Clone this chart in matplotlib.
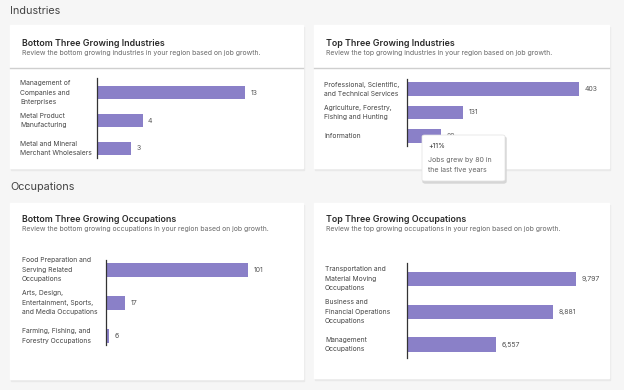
import matplotlib
matplotlib.use("Agg")
import matplotlib.pyplot as plt
import matplotlib.transforms as mtransforms
from matplotlib.patches import Rectangle, FancyBboxPatch

plt.rcParams['font.family'] = ['Inter', 'DejaVu Sans']

# data
ind_bottom_labels = ["Management of\nCompanies and\nEnterprises", "Metal Product\nManufacturing",
                     "Metal and Mineral\nMerchant Wholesalers"]
ind_bottom_values = [13, 4, 3]
ind_top_labels = ["Professional, Scientific,\nand Technical Services", "Agriculture, Forestry,\nFishing and Hunting",
                  "Information"]
ind_top_values = [403, 131, 80]
occ_bottom_labels = ["Food Preparation and\nServing Related\nOccupations",
                     "Arts, Design,\nEntertainment, Sports,\nand Media Occupations",
                     "Farming, Fishing, and\nForestry Occupations"]
occ_bottom_values = [101, 17, 6]
occ_top_labels = ["Transportation and\nMaterial Moving\nOccupations", "Business and\nFinancial Operations\nOccupations",
                  "Management\nOccupations"]
occ_top_values = [9797, 8881, 6557]

W, H = 624, 390
BAR = '#8a80c8'
fig = plt.figure(figsize=(W / 100, H / 100), dpi=100)
fig.patch.set_facecolor('#f6f6f6')


def fx(x):
    return x / W


def fy(y):
    return 1 - y / H


def card(x0, y0, x1, y1, sep=None):
    fig.patches.append(Rectangle((fx(x0 + 1), fy(y1 + 2)), (x1 - x0) / W, (y1 - y0) / H,
                                 transform=fig.transFigure, color='#e9e9e9', zorder=-3))
    fig.patches.append(Rectangle((fx(x0), fy(y1)), (x1 - x0) / W, (y1 - y0) / H,
                                 transform=fig.transFigure, color='white', zorder=-2))
    if sep:
        fig.lines.append(plt.Line2D([fx(x0), fx(x1)], [fy(sep), fy(sep)], transform=fig.transFigure,
                                    color='#cfcfcf', lw=1, zorder=-1))


def header(x, y, title, sub):
    fig.text(fx(x), fy(y), title, fontsize=6.4, weight='semibold', color='#2b2b2b', va='center')
    fig.text(fx(x), fy(y + 10), sub, fontsize=4.95, color='#6a6a6a', va='center')


def bars(x0, top, bottom, width, labels, values, xlim, ylim, bh, label_x, fmt):
    ax = fig.add_axes([fx(x0), fy(bottom), width / W, (bottom - top) / H])
    ax.patch.set_alpha(0)
    ax.barh(range(len(values)), values, height=bh, color=BAR)
    ax.set_xlim(*xlim)
    ax.set_ylim(*ylim)
    for s in ['top', 'right', 'bottom']:
        ax.spines[s].set_visible(False)
    ax.spines['left'].set_color('#333333')
    ax.spines['left'].set_linewidth(0.9)
    ax.set_xticks([])
    ax.set_yticks([])
    trans = mtransforms.blended_transform_factory(fig.transFigure, ax.transData)
    for i, (lab, v) in enumerate(zip(labels, values)):
        ax.text(fx(label_x), i, lab, transform=trans, fontsize=4.85, color='#444444',
                va='center', ha='left', linespacing=1.7)
        ax.annotate(fmt(v), (v, i), xytext=(4, 0), textcoords='offset points',
                    fontsize=5.0, color='#555555', va='center', ha='left')
    return ax


# section titles
fig.text(fx(10), fy(11), "Industries", fontsize=7.8, color='#444444', va='center')
fig.text(fx(10), fy(187), "Occupations", fontsize=7.8, color='#444444', va='center')

# cards
card(10, 25, 303, 168, sep=68)
card(314, 25, 609, 168, sep=68)
card(10, 203, 303, 379)
card(314, 203, 609, 378)

header(22, 43, "Bottom Three Growing Industries",
       "Review the bottom growing industries in your region based on job growth.")
header(326, 43, "Top Three Growing Industries",
       "Review the top growing industries in your region based on job growth.")
header(22, 219, "Bottom Three Growing Occupations",
       "Review the bottom growing occupations in your region based on job growth.")
header(326, 219, "Top Three Growing Occupations",
       "Review the top growing occupations in your region based on job growth.")

plain = lambda v: str(v)
comma = lambda v: f"{v:,}"

bars(97, 78, 158, 190, ind_bottom_labels, ind_bottom_values, (0, 16.7), (2.34, -0.52), 0.48, 20, plain)
bars(407, 79, 146, 190, ind_top_labels, ind_top_values, (0, 445), (2.45, -0.45), 0.6, 324, plain)
bars(106, 260, 345, 190, occ_bottom_labels, occ_bottom_values, (4, 133.8), (2.27, -0.3), 0.43, 22, plain)
bars(407, 263, 358, 190, occ_top_labels, occ_top_values, (2950, 2950 + 190 / 0.02468), (2.41, -0.48), 0.43,
     325, comma)

# tooltip over the "Information" bar
tip_x0, tip_y0, tip_x1, tip_y1 = 422, 135, 505, 181
fig.patches.append(FancyBboxPatch((fx(tip_x0 + 1), fy(tip_y1 + 2)), (tip_x1 - tip_x0) / W, (tip_y1 - tip_y0) / H,
                                  boxstyle='round,pad=0,rounding_size=0.004', transform=fig.transFigure,
                                  color='#d6d6d6', zorder=4))
fig.patches.append(FancyBboxPatch((fx(tip_x0), fy(tip_y1)), (tip_x1 - tip_x0) / W, (tip_y1 - tip_y0) / H,
                                  boxstyle='round,pad=0,rounding_size=0.004', transform=fig.transFigure,
                                  facecolor='white', edgecolor='#e2e2e2', lw=0.5, zorder=5))
fig.text(fx(428), fy(146), "+11%", fontsize=5.0, color='#333333', va='center', zorder=6)
fig.text(fx(428), fy(160), "Jobs grew by 80 in", fontsize=5.1, color='#666666', va='center', zorder=6)
fig.text(fx(428), fy(170), "the last five years", fontsize=5.1, color='#666666', va='center', zorder=6)

fig.savefig("out.png", dpi=100, facecolor=fig.get_facecolor())
